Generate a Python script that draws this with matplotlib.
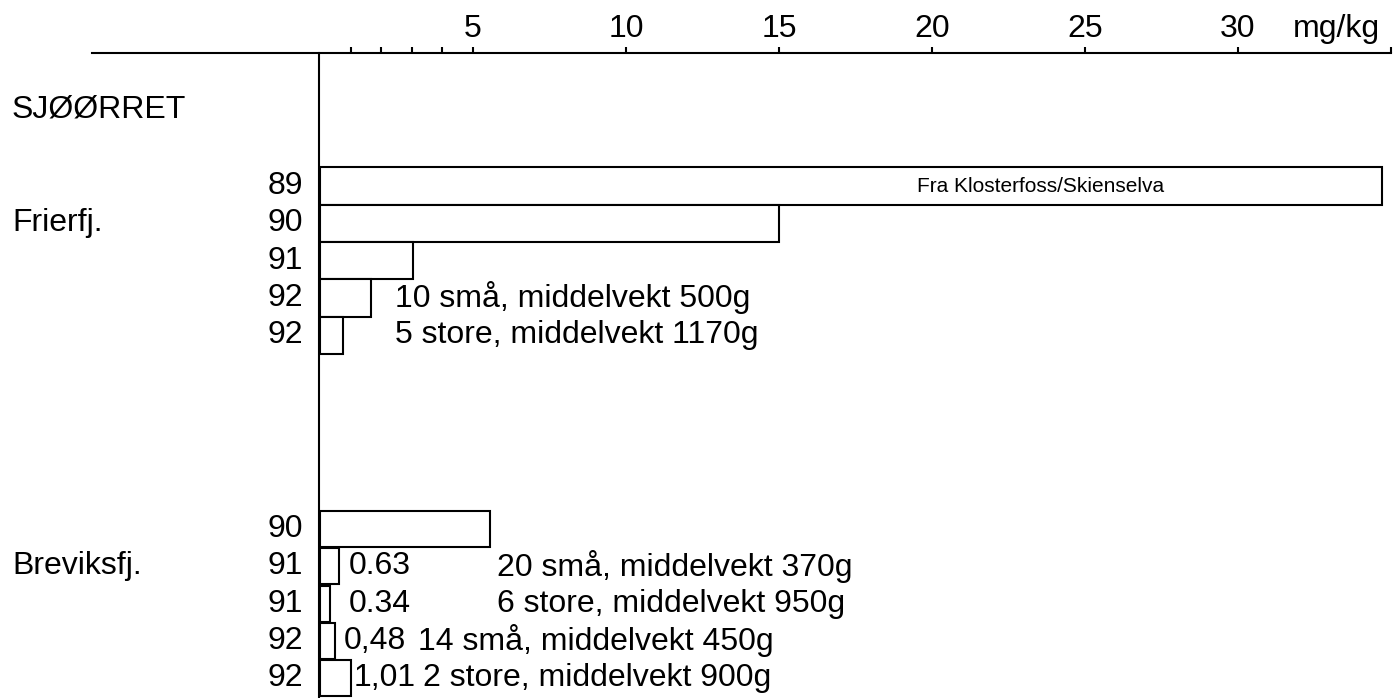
import matplotlib.pyplot as plt

plt.rcParams["font.family"] = ["Liberation Sans", "DejaVu Sans"]

# -------------------------
# DATA
# -------------------------
frier_years = ["89", "90", "91", "92", "92"]
frier_values = [34.7, 15.0, 3.05, 1.67, 0.75]
frier_rows = [0, 1, 2, 3, 4]

brevik_years = ["90", "91", "91", "92", "92"]
brevik_values = [5.56, 0.63, 0.34, 0.48, 1.01]
brevik_rows = [9.2, 10.2, 11.2, 12.2, 13.2]
brevik_value_labels = ["", "0.63", "0.34", "0,48", "1,01"]

major_ticks = [5, 10, 15, 20, 25, 30]
minor_ticks = [1, 2, 3, 4, 35]

# -------------------------
# FIGURE
# -------------------------
fig = plt.figure(figsize=(13.95, 6.98), dpi=100)
ax = fig.add_axes([0, 0, 1, 1])
ax.set_xlim(-10.46, 35.13)
ax.set_ylim(13.73, -4.99)
ax.axis("off")

lw = 1.5
fs = 23
axis_y = -3.57

# top axis line and ticks
ax.plot([-7.46, 35.0], [axis_y, axis_y], color="black", lw=lw)
ax.vlines(major_ticks + minor_ticks, axis_y - 0.15, axis_y, color="black", lw=lw)
for t in major_ticks:
    ax.text(t, -3.99, str(t), ha="center", va="baseline", fontsize=fs)
ax.text(33.2, -3.99, "mg/kg", ha="center", va="baseline", fontsize=fs)

# vertical base line
ax.plot([-0.05, -0.05], [axis_y, 13.73], color="black", lw=lw)

# bars
ax.barh(frier_rows, frier_values, height=1.0, left=0.0,
        color="white", edgecolor="black", linewidth=lw, zorder=3)
ax.barh(brevik_rows, brevik_values, height=0.97, left=0.0,
        color="white", edgecolor="black", linewidth=lw, zorder=3)

# year labels
for r, y in zip(frier_rows + brevik_rows, frier_years + brevik_years):
    ax.text(-0.56, r, y, ha="right", va="center", fontsize=fs)

# group labels
ax.text(-10.07, -2.04, "SJØØRRET", ha="left", va="center", fontsize=fs)
ax.text(-10.07, 1, "Frierfj.", ha="left", va="center", fontsize=fs)
ax.text(-10.07, 10.2, "Breviksfj.", ha="left", va="center", fontsize=fs)

# annotations
ax.text(27.6, 0, "Fra Klosterfoss/Skienselva", ha="right", va="center",
        fontsize=15, zorder=4)
ax.text(2.45, 3, "10 små, middelvekt 500g", ha="left", va="center", fontsize=fs)
ax.text(2.45, 4, "5 store, middelvekt 1170g", ha="left", va="center", fontsize=fs)

note_x = [5.78, 5.78, 3.2, 3.35]
notes = ["20 små, middelvekt 370g", "6 store, middelvekt 950g",
         "14 små, middelvekt 450g", "2 store, middelvekt 900g"]
value_x = [0.95, 0.95, 0.78, 1.1]
for i in range(4):
    r = brevik_rows[i + 1]
    ax.text(value_x[i], r, brevik_value_labels[i + 1], ha="left", va="center", fontsize=fs)
    ax.text(note_x[i], r, notes[i], ha="left", va="center", fontsize=fs)

plt.savefig("out.png", dpi=100)
